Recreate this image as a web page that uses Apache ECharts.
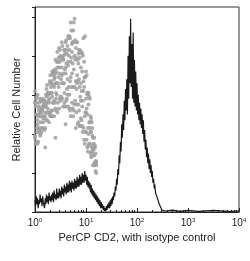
<!DOCTYPE html>
<html><head><meta charset="utf-8">
<script src="https://cdn.jsdelivr.net/npm/echarts@6/dist/echarts.min.js"></script>
<style>html,body{margin:0;padding:0;background:#fff}#c{width:250px;height:261px}</style>
</head><body><div id="c"></div>
<script>
// x values are decades (log10 of fluorescence intensity)
const decadeTicks = [0, 1, 2, 3, 4];
// PerCP CD2 histogram: counts per channel, channels every 0.0125 decade from 0 to 2.5
const cd2Step = 0.0125;
const cd2Y = [
6,3,8,4,7,2,6,4,9,5,7,3,8,5,6,2,7,4,9,5,8,4,10,6,8,5,9,6,10,5,11,7,9,6,12,7,10,7,12,8,
11,7,13,9,12,8,14,10,13,9,15,10,14,10,16,11,15,10,16,12,15,11,17,12,16,12,18,13,17,13,19,14,18,14,20,15,19,15,21,16,
19,14,18,13,16,12,15,10,14,9,12,8,11,7,10,6,9,5,8,4,7,3,6,2,5,2,4,1,3,0.5,2,0.5,3,1,4,2,5,2,6,3,
7,4,8,6,10,8,13,11,17,14,22,19,29,25,36,31,45,38,50,42,57,47,63,52,68,50,80,58,90,66,99,64,86,58,92,56,78,54,72,52,
66,50,60,47,56,45,53,43,50,40,47,36,42,32,37,28,33,25,30,22,27,20,24,18,21,15,17,12,14,10,11,8,9,6,7,4,5,3,3,1,1.5];
const tailX = [2.55, 2.7, 2.85, 3.0, 3.2, 3.5, 3.8, 4.0];
const tailY = [0.5, 1, 0.3, 0.8, 0.3, 0.8, 0.3, 0.5];

// Isotype control: scattered event cloud (several readings per x column)
const isoX = [0,0.025,0.05,0.075,0.1,0.125,0.15,0.175,0.2,0.225,0.25,0.275,0.3,0.325,0.35,0.375,0.4,0.425,0.45,0.475,0.5,0.525,0.55,0.575,0.6,0.625,0.65,0.675,0.7,0.725,0.75,0.775,0.8,0.825,0.85,0.875,0.9,0.925,0.95,0.975,1.0,1.025,1.05,1.075,1.1,1.125,1.15,1.175,1.2];
const isoLow  = [38,36,35,43,39,43,43,48,43,47,53,46,49,49,52,49,53,52,56,53,57,66,54,56,54,58,54,53,49,56,49,55,43,55,46,44,48,44,43,35,41,33,34,35,28,29,24,24,20];
const isoMidA = [39,50,47,41,51,41,54,49,49,56,51,61,51,61,56,57,66,60,66,71,59,70,71,61,71,63,75,60,69,71,64,64,67,66,55,64,57,54,62,49,51,50,40,43,41,31,33,25,24];
const isoMidB = [56,58,45,54,49,57,53,57,51,59,60,56,66,61,72,64,71,66,77,74,80,74,78,83,74,81,77,83,77,82,87,80,79,70,76,79,66,72,67,69,58,60,55,46,48,39,32,33,25];
const isoHigh = [62,56,60,52,58,51,58,55,54,63,61,61,70,66,71,68,78,77,77,84,79,87,78,83,87,83,90,90,97,86,93,99,84,87,81,83,74,81,89,69,72,61,61,58,46,43,35,34,26];
const isoX2 = [0.0125,0.0375,0.0625,0.0875,0.1125,0.1375,0.1625,0.1875,0.2125,0.2375,0.2625,0.2875,0.3125,0.3375,0.3625,0.3875,0.4125,0.4375,0.4625,0.4875,0.5125,0.5375,0.5625,0.5875,0.6125,0.6375,0.6625,0.6875,0.7125,0.7375,0.7625,0.7875,0.8125,0.8375,0.8625,0.8875,0.9125,0.9375,0.9625,0.9875,1.0125,1.0375,1.0625,1.0875,1.1125,1.1375,1.1625,1.1875];
const iso2Low  = [35,41,36,42,40,49,46,42,54,47,57,50,52,49,56,56,58,51,64,58,59,58,66,54,57,60,64,52,64,53,52,57,51,45,52,44,47,41,37,41,37,31,35,30,31,24,25,21];
const iso2Mid  = [54,43,49,53,46,52,48,57,60,51,60,58,67,59,65,69,61,74,69,77,68,79,66,73,76,68,80,67,79,76,73,78,63,67,68,59,62,57,64,51,53,43,46,41,33,34,29,26];
const iso2High = [56,59,50,56,57,52,57,56,55,65,61,67,64,72,70,73,72,82,79,83,79,85,80,81,88,85,89,89,93,87,97,88,87,78,83,82,82,80,77,69,70,61,59,49,46,38,38,30];
const isoOutX = [0.4, 0.98, 0.6, 0.2];
const isoOutY = [38, 90, 45, 33];

const cd2Data = cd2Y.map((v, i) => [i * cd2Step, v]).concat(tailX.map((x, i) => [x, tailY[i]]));
const isoData = [];
[isoLow, isoMidA, isoMidB, isoHigh].forEach(arr => arr.forEach((v, i) => isoData.push([isoX[i], v])));
[iso2Low, iso2Mid, iso2High].forEach(arr => arr.forEach((v, i) => isoData.push([isoX2[i], v])));
isoOutX.forEach((x, i) => isoData.push([x, isoOutY[i]]));
const minorTicks = [];
for (let d = 0; d < 4; d++) for (let k = 2; k <= 9; k++) minorTicks.push(d + Math.log10(k));

const font = 'Liberation Sans, Arial, sans-serif';
const chart = echarts.init(document.getElementById('c'), null, {renderer: 'canvas'});
chart.setOption({
  animation: false,
  backgroundColor: '#fff',
  grid: {left: 35, right: 11, top: 7, bottom: 49, show: true, borderColor: '#333', borderWidth: 1},
  xAxis: [{
    type: 'value', min: 0, max: 4,
    axisLine: {show: true, lineStyle: {color: '#222', width: 1}},
    axisTick: {show: true, inside: true, length: 4, customValues: decadeTicks, lineStyle: {color: '#222'}},
    splitLine: {show: false},
    axisLabel: {
      customValues: decadeTicks, margin: 5, color: '#222', fontFamily: font, fontSize: 10,
      formatter: v => '10{s|' + Math.round(v) + '}',
      rich: {s: {fontSize: 6, verticalAlign: 'top', padding: [0, 0, 6, 0], fontFamily: font, color: '#222'}}
    },
    name: 'PerCP CD2, with isotype control', nameLocation: 'middle', nameGap: 18,
    nameTextStyle: {fontFamily: font, fontSize: 11, color: '#222'}
  }, {
    type: 'value', min: 0, max: 4, position: 'bottom',
    axisLine: {show: false},
    axisTick: {show: true, inside: true, length: 2, customValues: minorTicks, lineStyle: {color: '#222'}},
    axisLabel: {show: false}, splitLine: {show: false}
  }],
  yAxis: {
    type: 'value', min: 0, max: 105, interval: 20,
    axisLine: {show: true, lineStyle: {color: '#222', width: 1}},
    axisTick: {show: true, inside: false, length: 3, lineStyle: {color: '#222'}},
    axisLabel: {show: false}, splitLine: {show: false},
    name: 'Relative Cell Number', nameLocation: 'middle', nameGap: 13,
    nameTextStyle: {fontFamily: font, fontSize: 11, color: '#222'}
  },
  series: [{
    name: 'Isotype control', type: 'scatter', data: isoData,
    symbol: 'emptyCircle', symbolSize: 2,
    itemStyle: {color: '#9a9a9a', borderWidth: 0.6}, z: 2
  }, {
    name: 'PerCP CD2', type: 'line', data: cd2Data, showSymbol: false, symbol: 'none',
    lineStyle: {color: '#1a1a1a', width: 1.2}, z: 3
  }]
});
</script></body></html>
